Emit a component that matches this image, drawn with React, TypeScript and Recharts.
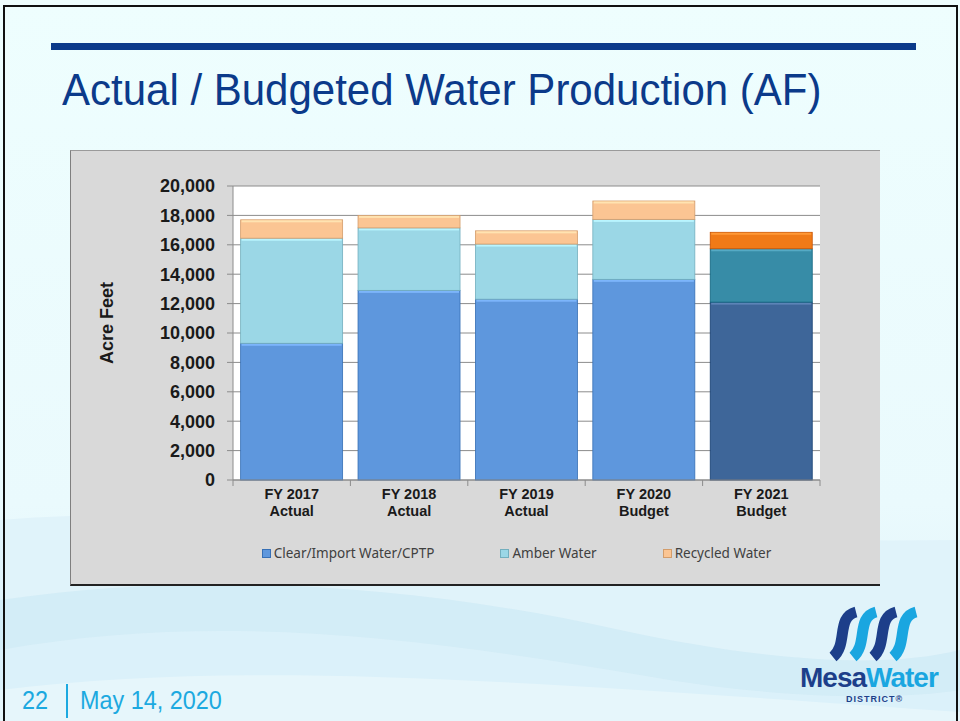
import React from 'react'
import { BarChart, Bar, XAxis, YAxis, CartesianGrid, Legend, Cell, Label } from 'recharts'

// fiscal years on the x axis, second label line underneath
const fiscalYears = ['FY 2017', 'FY 2018', 'FY 2019', 'FY 2020', 'FY 2021']
const periodTypes = ['Actual', 'Actual', 'Actual', 'Budget', 'Budget']

// acre feet
const clearImport = [9300, 12900, 12300, 13650, 12100]
const amberWater = [7150, 4250, 3750, 4080, 3630]
const recycledWater = [1250, 850, 900, 1250, 1120]

const yTicks = [0, 2000, 4000, 6000, 8000, 10000, 12000, 14000, 16000, 18000, 20000]

const seriesNames = ['Clear/Import Water/CPTP', 'Amber Water', 'Recycled Water']
const highlightYear = 'FY 2021'

const data = fiscalYears.map((fy, i) => ({
    name: fy,
    period: periodTypes[i],
    clear: clearImport[i],
    amber: amberWater[i],
    recycled: recycledWater[i],
}))

const COLORS = {
    clear: '#5E97DD',
    amber: '#9BD7E6',
    recycled: '#FBC593',
}
const BUDGET_COLORS = {
    clear: '#3E6699',
    amber: '#378CA7',
    recycled: '#F07A17',
}

const CHART_W = 810
const CHART_H = 436
const Y_AXIS_W = 163
const MARGIN_RIGHT = 60
const PLOT_W = CHART_W - Y_AXIS_W - MARGIN_RIGHT
const HALF_BAND = PLOT_W / fiscalYears.length / 2

function shade(hex: string, amt: number) {
    const n = parseInt(hex.slice(1), 16)
    const f = (c: number) => Math.max(0, Math.min(255, Math.round(c + amt)))
    const r = f((n >> 16) & 255), g = f((n >> 8) & 255), b = f(n & 255)
    return `rgb(${r},${g},${b})`
}

const BevelBar = (props: any) => {
    const { x, y, width, height, fill } = props
    if (!height || height <= 0) return null
    return (
        <g>
            <rect x={x} y={y} width={width} height={height} fill={fill} stroke={shade(fill, -40)} strokeWidth={0.8} />
            <rect x={x + 1} y={y + 0.5} width={width - 2} height={Math.min(2, height)} fill={shade(fill, 30)} />
        </g>
    )
}

const YearTick = (props: any) => {
    const { x, y, payload } = props
    const i = fiscalYears.indexOf(payload.value)
    const last = i === fiscalYears.length - 1
    return (
        <g>
            <line x1={x - HALF_BAND} y1={y - 8} x2={x - HALF_BAND} y2={y - 2} stroke="#8c8c8c" />
            {last && <line x1={x + HALF_BAND} y1={y - 8} x2={x + HALF_BAND} y2={y - 2} stroke="#8c8c8c" />}
            <text x={x} y={y + 11} textAnchor="middle" fontFamily="'Liberation Sans', Arial, sans-serif" fontWeight="bold" fontSize={14.5} fill="#1a1a1a">
                {payload.value}
            </text>
            <text x={x} y={y + 28} textAnchor="middle" fontFamily="'Liberation Sans', Arial, sans-serif" fontWeight="bold" fontSize={14.5} fill="#1a1a1a">
                {periodTypes[i]}
            </text>
        </g>
    )
}

const LegendContent = () => {
    const swatches = [COLORS.clear, COLORS.amber, COLORS.recycled]
    return (
        <div style={{ display: 'flex', justifyContent: 'center', gap: 66, height: 56, alignItems: 'flex-start', paddingTop: 14, boxSizing: 'border-box' }}>
            {seriesNames.map((name, i) => (
                <div key={name} style={{ display: 'flex', alignItems: 'center', gap: 3 }}>
                    <span style={{ width: 7, height: 7, background: swatches[i], border: `1px solid ${shade(swatches[i], -40)}`, display: 'inline-block' }} />
                    <span style={{ fontFamily: "'Noto Sans', sans-serif", fontSize: 13.5, color: '#404040', whiteSpace: 'nowrap' }}>{name}</span>
                </div>
            ))}
        </div>
    )
}

function SlideBackground() {
    return (
        <svg width={960} height={721} style={{ position: 'absolute', left: 0, top: 0 }}>
            <defs>
                <linearGradient id="bgGrad" x1="0" y1="0" x2="0" y2="1">
                    <stop offset="0" stopColor="#EEFEFE" />
                    <stop offset="0.7" stopColor="#EAFAFD" />
                    <stop offset="1" stopColor="#DDF1F9" />
                </linearGradient>
            </defs>
            <rect width={960} height={721} fill="url(#bgGrad)" />
            <path d="M0 520 C 250 500, 520 545, 960 540 L 960 721 L 0 721 Z" fill="#E0F3FA" />
            <path d="M0 600 C 200 570, 420 585, 620 630 C 760 660, 880 670, 960 650 L 960 721 L 0 721 Z" fill="#D0EBF6" opacity={0.85} />
            <path d="M0 650 C 220 610, 430 640, 640 675 C 780 700, 900 700, 960 690 L 960 721 L 0 721 Z" fill="#DCF1F9" opacity={0.9} />
            <path d="M0 690 C 250 660, 500 680, 960 712 L 960 721 L 0 721 Z" fill="#E6F6FB" />
        </svg>
    )
}

function Logo() {
    const strokes = ['#1D3F8A', '#1AA6E0', '#1D3F8A', '#1AA6E0']
    return (
        <svg width={150} height={110} style={{ position: 'absolute', left: 800, top: 605 }}>
            {strokes.map((c, i) => (
                <path
                    key={i}
                    d={`M ${33 + i * 20} 52 C ${48 + i * 20} 40, ${36 + i * 20} 12, ${56 + i * 20} 7`}
                    stroke={c}
                    strokeWidth={11}
                    fill="none"
                    strokeLinecap="butt"
                />
            ))}
            <text x={0} y={82} fontFamily="'Liberation Sans', Arial, sans-serif" fontWeight="bold" fontSize={28} letterSpacing={-1}>
                <tspan fill="#1D3F8A">Mesa</tspan>
                <tspan fill="#1AA6E0">Water</tspan>
            </text>
            <text x={46} y={97} fontFamily="'Liberation Sans', Arial, sans-serif" fontWeight="bold" fontSize={9} letterSpacing={1} fill="#1D3F8A">
                DISTRICT®
            </text>
        </svg>
    )
}

export default function App() {
    return (
        <div style={{ position: 'absolute', left: 0, top: 0, width: 960, height: 721, overflow: 'hidden', fontFamily: "'Liberation Sans', Arial, sans-serif" }}>
            <SlideBackground />
            <div style={{ position: 'absolute', left: 3, top: 5, width: 951, height: 730, border: '2px solid #111' }} />
            <div style={{ position: 'absolute', left: 51, top: 43, width: 865, height: 7, background: '#0B3A8A' }} />
            <div style={{ position: 'absolute', left: 62, top: 64, fontSize: 42, color: '#0B3A8A', whiteSpace: 'nowrap', lineHeight: '50px', transform: 'scaleY(1.06)', transformOrigin: 'top left' }}>
                Actual / Budgeted Water Production (AF)
            </div>

            <div style={{ position: 'absolute', left: 70, top: 150, width: CHART_W, height: CHART_H, background: '#D9D9D9', borderLeft: '1px solid #7f7f7f', borderTop: '1px solid #9a9a9a', borderBottom: '2px solid #222', boxSizing: 'border-box' }}>
                <BarChart
                    width={CHART_W}
                    height={CHART_H}
                    data={data}
                    margin={{ top: 36, right: MARGIN_RIGHT, left: 0, bottom: 0 }}
                    barCategoryGap="6.5%"
                    style={{ position: 'absolute', left: -1, top: -1 }}
                >
                    <CartesianGrid vertical={false} stroke="#8c8c8c" fill="#ffffff" />
                    <XAxis
                        dataKey="name"
                        height={50}
                        tickLine={false}
                        axisLine={{ stroke: '#8c8c8c' }}
                        tick={<YearTick />}
                        interval={0}
                    />
                    <YAxis
                        width={Y_AXIS_W}
                        domain={[0, 20000]}
                        ticks={yTicks}
                        tickSize={6}
                        tickMargin={12}
                        tickLine={{ stroke: '#8c8c8c' }}
                        axisLine={{ stroke: '#8c8c8c' }}
                        tickFormatter={(v: number) => v.toLocaleString('en-US')}
                        tick={{ fontFamily: "'Liberation Sans', Arial, sans-serif", fontWeight: 'bold', fontSize: 18, fill: '#1a1a1a' }}
                    >
                        <Label
                            content={() => (
                                <text
                                    x={37}
                                    y={173}
                                    transform="rotate(-90 37 173)"
                                    textAnchor="middle"
                                    dominantBaseline="central"
                                    fontFamily="'Liberation Sans', Arial, sans-serif"
                                    fontWeight="bold"
                                    fontSize={18}
                                    fill="#1a1a1a"
                                >
                                    Acre Feet
                                </text>
                            )}
                        />
                    </YAxis>
                    <Legend
                        verticalAlign="bottom"
                        content={<LegendContent />}
                        wrapperStyle={{ left: Y_AXIS_W - 10, width: PLOT_W, height: 56 }}
                    />
                    <Bar dataKey="clear" name={seriesNames[0]} stackId="a" shape={<BevelBar />} isAnimationActive={false}>
                        {data.map((d) => (
                            <Cell key={d.name} fill={d.name === highlightYear ? BUDGET_COLORS.clear : COLORS.clear} />
                        ))}
                    </Bar>
                    <Bar dataKey="amber" name={seriesNames[1]} stackId="a" shape={<BevelBar />} isAnimationActive={false}>
                        {data.map((d) => (
                            <Cell key={d.name} fill={d.name === highlightYear ? BUDGET_COLORS.amber : COLORS.amber} />
                        ))}
                    </Bar>
                    <Bar dataKey="recycled" name={seriesNames[2]} stackId="a" shape={<BevelBar />} isAnimationActive={false}>
                        {data.map((d) => (
                            <Cell key={d.name} fill={d.name === highlightYear ? BUDGET_COLORS.recycled : COLORS.recycled} />
                        ))}
                    </Bar>
                </BarChart>
            </div>

            <Logo />
            <div style={{ position: 'absolute', left: 22, top: 685, fontSize: 26, color: '#1CA9E0', whiteSpace: 'nowrap', lineHeight: '30px', transform: 'scaleX(0.9)', transformOrigin: 'left' }}>
                22
            </div>
            <div style={{ position: 'absolute', left: 66, top: 684, width: 2, height: 34, background: '#1CA9E0' }} />
            <div style={{ position: 'absolute', left: 80, top: 685, fontSize: 26, color: '#1CA9E0', whiteSpace: 'nowrap', lineHeight: '30px', transform: 'scaleX(0.9)', transformOrigin: 'left' }}>
                May 14, 2020
            </div>
        </div>
    )
}
